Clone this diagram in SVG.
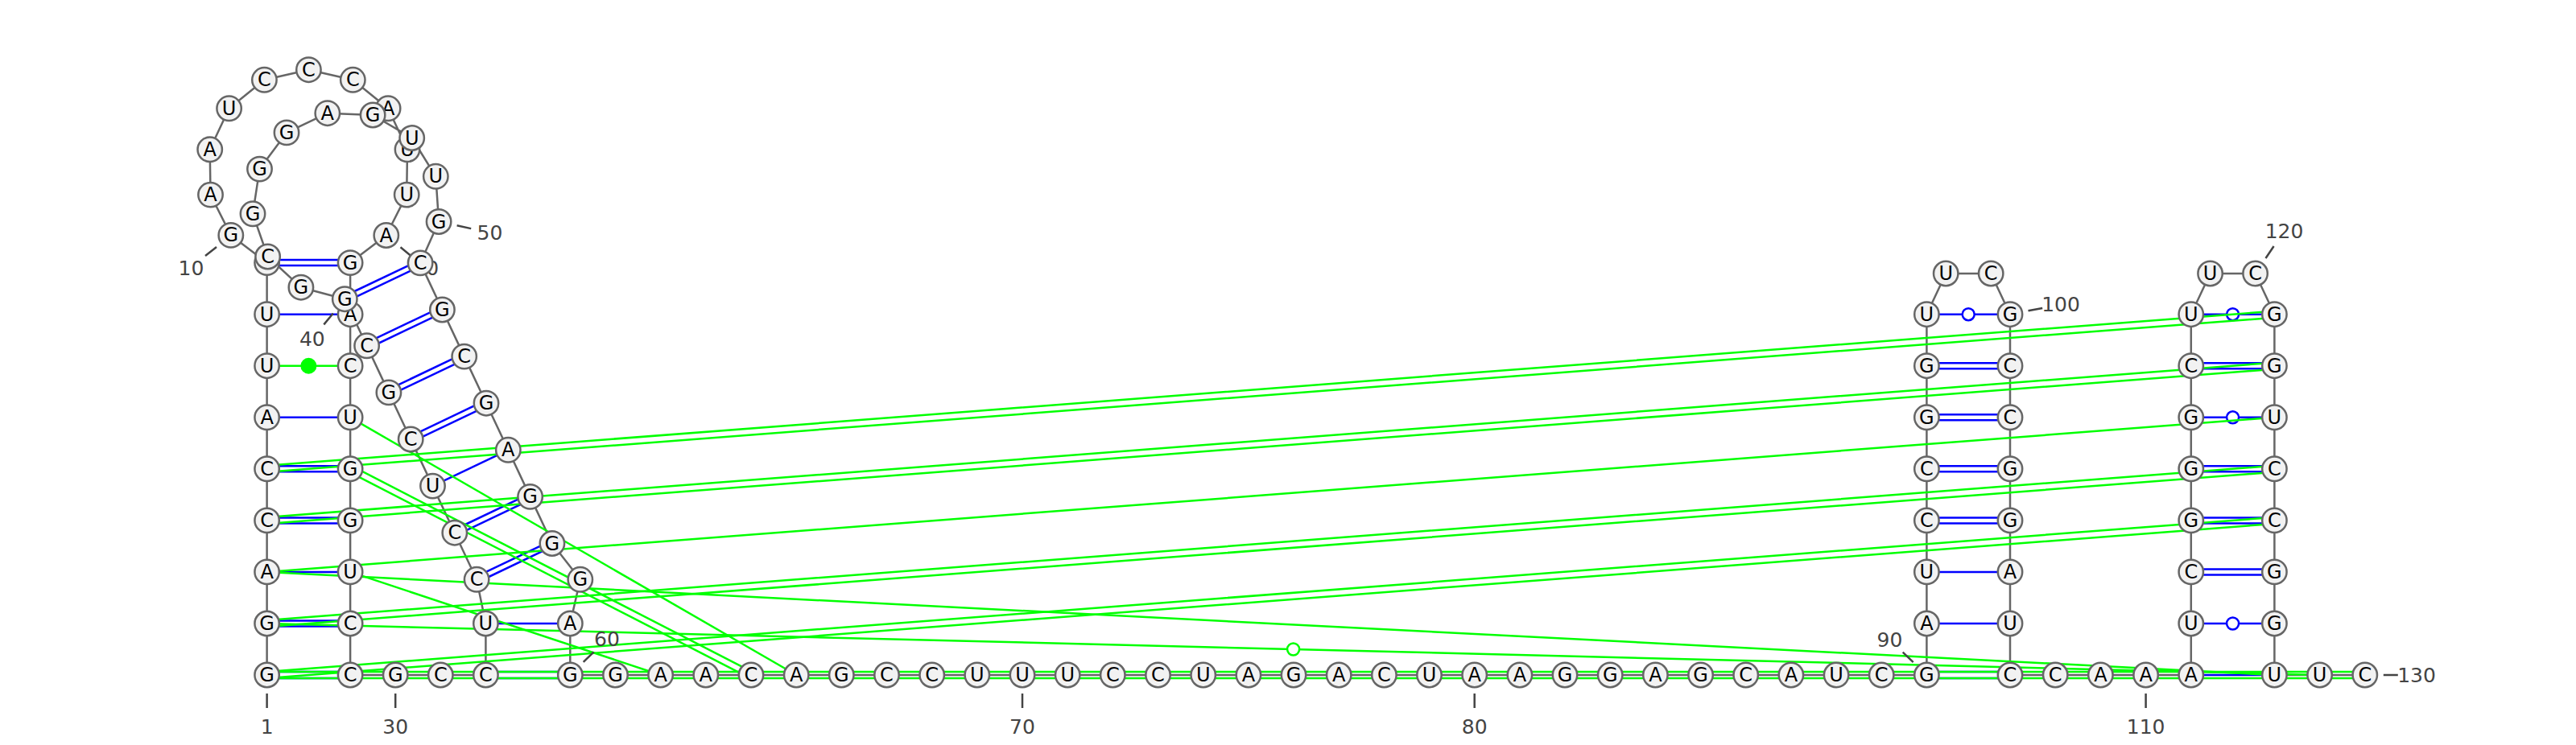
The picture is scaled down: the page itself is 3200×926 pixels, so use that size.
<svg xmlns="http://www.w3.org/2000/svg" width="3200" height="926" viewBox="0 0 3200 926">
<style>
.bb{stroke:#666;stroke-width:2.5;fill:none;stroke-linejoin:round}
.bp{stroke:#0000ff;stroke-width:2.5;fill:none}
.gp{stroke:#00ff00;stroke-width:2.5;fill:none}
.wb{fill:#fff;stroke:#0000ff;stroke-width:2.5}
.wg{fill:#fff;stroke:#00ff00;stroke-width:2.5}
.nd circle{fill:#f2f2f2;stroke:#666;stroke-width:2.5}
.nd text{font-family:'DejaVu Sans',sans-serif;font-size:24px;text-anchor:middle;dominant-baseline:central;fill:#000}
.lb{font-family:'DejaVu Sans',sans-serif;font-size:25px;text-anchor:middle;dominant-baseline:central;fill:#444}
.tk{stroke:#444;stroke-width:2.5}
</style>
<rect width="3200" height="926" fill="#fff"/>
<g id="connectors">
<polyline class="bb" points="331.6,839 331.6,775 331.6,710.9 331.6,646.9 331.6,582.8 331.6,518.8 331.6,454.7 331.6,390.7 331.6,326.6 286.8,292.4 261.5,242.1 260.7,185.8 284.6,134.8 328.4,99.3 383.4,86.7 438.3,99.3 482.1,134.8 506,185.8 505.2,242.1 479.8,292.5 435.1,326.6 435.1,839 603.4,839 603.4,775 592.1,720.3 564.8,662.2 537.5,604.1 510.2,546 482.9,487.9 455.6,429.8 428.3,371.7 373.9,357.2 332.6,319 314,265.8 322.5,210.1 356,164.9 406.8,140.7 463.1,143 511.7,171.5 541.3,219.3 545.1,275.5 522.1,326.9 549.4,385 576.7,443.1 604,501.2 631.3,559.3 658.6,617.4 685.9,675.5 720.8,720.3 708.3,775 708.3,839 2393.4,839 2393.4,390.7 2417.2,340 2473.2,340 2497,390.7 2497,839 2721.8,839 2721.8,390.7 2745.6,340 2801.6,340 2825.4,390.7 2825.4,839 2937.8,839"/>
<g id="pairs-blue">
<path class="bp" d="M331.6 835H435.1M331.6 843H435.1"/>
<path class="bp" d="M331.6 771.5H435.1M331.6 778.5H435.1"/>
<path class="bp" d="M331.6 710.9H435.1"/>
<path class="bp" d="M331.6 643.4H435.1M331.6 650.4H435.1"/>
<path class="bp" d="M331.6 579.3H435.1M331.6 586.3H435.1"/>
<path class="bp" d="M331.6 518.8H435.1"/>
<path class="bp" d="M331.6 390.7H435.1"/>
<path class="bp" d="M331.6 323.1H435.1M331.6 330.1H435.1"/>
<path class="bp" d="M429.8 374.9L523.6 330.1M426.8 368.5L520.6 323.7"/>
<path class="bp" d="M457.1 433L550.9 388.2M454.1 426.6L547.9 381.8"/>
<path class="bp" d="M484.4 491.1L578.2 446.3M481.4 484.7L575.2 439.9"/>
<path class="bp" d="M511.7 549.2L605.5 504.4M508.7 542.8L602.5 498"/>
<path class="bp" d="M537.5 604.1L631.3 559.3"/>
<path class="bp" d="M566.3 665.4L660.1 620.6M563.3 659L657.1 614.2"/>
<path class="bp" d="M593.6 723.5L687.4 678.7M590.6 717.1L684.4 672.3"/>
<path class="bp" d="M603.4 775H708.3"/>
<path class="bp" d="M603.4 835H708.3M603.4 843H708.3"/>
<path class="bp" d="M2393.4 835H2497M2393.4 843H2497"/>
<path class="bp" d="M2393.4 775H2497"/>
<path class="bp" d="M2393.4 710.9H2497"/>
<path class="bp" d="M2393.4 643.4H2497M2393.4 650.4H2497"/>
<path class="bp" d="M2393.4 579.3H2497M2393.4 586.3H2497"/>
<path class="bp" d="M2393.4 515.3H2497M2393.4 522.3H2497"/>
<path class="bp" d="M2393.4 451.2H2497M2393.4 458.2H2497"/>
<path class="bp" d="M2393.4 390.7H2497"/>
<circle class="wb" cx="2445.2" cy="390.7" r="7.5"/>
<path class="bp" d="M2721.8 839H2825.4"/>
<path class="bp" d="M2721.8 775H2825.4"/>
<circle class="wb" cx="2773.6" cy="775" r="7.5"/>
<path class="bp" d="M2721.8 707.4H2825.4M2721.8 714.4H2825.4"/>
<path class="bp" d="M2721.8 643.4H2825.4M2721.8 650.4H2825.4"/>
<path class="bp" d="M2721.8 579.3H2825.4M2721.8 586.3H2825.4"/>
<path class="bp" d="M2721.8 518.8H2825.4"/>
<circle class="wb" cx="2773.6" cy="518.8" r="7.5"/>
<path class="bp" d="M2721.8 451.2H2825.4M2721.8 458.2H2825.4"/>
<path class="bp" d="M2721.8 390.7H2825.4"/>
<circle class="wb" cx="2773.6" cy="390.7" r="7.5"/>
</g>
<g id="pairs-green">
<path class="gp" d="M331.6 835H2937.8M331.6 843H2937.8"/>
<path class="gp" d="M331.6 775L2881.6 839"/>
<circle class="wg" cx="1606.6" cy="807" r="7.5"/>
<path class="gp" d="M331.6 710.9L2825.4 839"/>
<path class="gp" d="M331.9 843L2825.7 650.9M331.3 835L2825.1 642.9"/>
<path class="gp" d="M331.9 779L2825.7 586.8M331.3 771L2825.1 578.8"/>
<path class="gp" d="M331.6 710.9L2825.4 518.8"/>
<path class="gp" d="M331.9 650.9L2825.7 458.7M331.3 642.9L2825.1 450.7"/>
<path class="gp" d="M331.9 586.8L2825.7 394.7M331.3 578.8L2825.1 386.7"/>
<path class="gp" d="M331.6 454.7H435.1"/>
<circle cx="383.35" cy="454.7" r="10" fill="#00ff00"/>
<path class="gp" d="M435.1 518.8L989.2 839"/>
<path class="gp" d="M433.3 586.4L931.2 842.6M436.9 579.2L934.8 835.4"/>
<path class="gp" d="M435.1 710.9L820.6 839"/>
</g>
</g>
<g id="labels">
<path class="tk" d="M331.6 862V880M269 307L255 318M497.5 307.2L511.4 318.7M491.2 862V880M413.8 389.5L402.3 403.4M567.6 280.3L585.2 284.1M724.7 822.9L737.6 810.4M1270 862V880M1831.7 862V880M2376.7 823.1L2363.7 810.7M2519.5 386.3L2537.2 382.9M2665.6 862V880M2814.5 321L2824.6 306M2960.8 839H2978.8"/>
<text class="lb" x="331.6" y="903">1</text>
<text class="lb" x="237.5" y="333.4">10</text>
<text class="lb" x="529.3" y="333.5">20</text>
<text class="lb" x="491.2" y="903">30</text>
<text class="lb" x="387.8" y="421.5">40</text>
<text class="lb" x="608.5" y="289">50</text>
<text class="lb" x="754" y="794.5">60</text>
<text class="lb" x="1270" y="903">70</text>
<text class="lb" x="1831.7" y="903">80</text>
<text class="lb" x="2347.5" y="795">90</text>
<text class="lb" x="2560" y="378">100</text>
<text class="lb" x="2665.6" y="903">110</text>
<text class="lb" x="2837.5" y="287">120</text>
<text class="lb" x="3002" y="839">130</text>
</g>
<g id="nodes" class="nd">
<g id="n1"><circle cx="331.6" cy="839" r="15.2"/><text x="331.6" y="839">G</text></g>
<g id="n2"><circle cx="331.6" cy="775" r="15.2"/><text x="331.6" y="775">G</text></g>
<g id="n3"><circle cx="331.6" cy="710.9" r="15.2"/><text x="331.6" y="710.9">A</text></g>
<g id="n4"><circle cx="331.6" cy="646.9" r="15.2"/><text x="331.6" y="646.9">C</text></g>
<g id="n5"><circle cx="331.6" cy="582.8" r="15.2"/><text x="331.6" y="582.8">C</text></g>
<g id="n6"><circle cx="331.6" cy="518.8" r="15.2"/><text x="331.6" y="518.8">A</text></g>
<g id="n7"><circle cx="331.6" cy="454.7" r="15.2"/><text x="331.6" y="454.7">U</text></g>
<g id="n8"><circle cx="331.6" cy="390.7" r="15.2"/><text x="331.6" y="390.7">U</text></g>
<g id="n9"><circle cx="331.6" cy="326.6" r="15.2"/><text x="331.6" y="326.6">C</text></g>
<g id="n10"><circle cx="286.8" cy="292.4" r="15.2"/><text x="286.8" y="292.4">G</text></g>
<g id="n11"><circle cx="261.5" cy="242.1" r="15.2"/><text x="261.5" y="242.1">A</text></g>
<g id="n12"><circle cx="260.7" cy="185.8" r="15.2"/><text x="260.7" y="185.8">A</text></g>
<g id="n13"><circle cx="284.6" cy="134.8" r="15.2"/><text x="284.6" y="134.8">U</text></g>
<g id="n14"><circle cx="328.4" cy="99.3" r="15.2"/><text x="328.4" y="99.3">C</text></g>
<g id="n15"><circle cx="383.4" cy="86.7" r="15.2"/><text x="383.4" y="86.7">C</text></g>
<g id="n16"><circle cx="438.3" cy="99.3" r="15.2"/><text x="438.3" y="99.3">C</text></g>
<g id="n17"><circle cx="482.1" cy="134.8" r="15.2"/><text x="482.1" y="134.8">A</text></g>
<g id="n18"><circle cx="506" cy="185.8" r="15.2"/><text x="506" y="185.8">U</text></g>
<g id="n19"><circle cx="505.2" cy="242.1" r="15.2"/><text x="505.2" y="242.1">U</text></g>
<g id="n20"><circle cx="479.8" cy="292.5" r="15.2"/><text x="479.8" y="292.5">A</text></g>
<g id="n21"><circle cx="435.1" cy="326.6" r="15.2"/><text x="435.1" y="326.6">G</text></g>
<g id="n22"><circle cx="435.1" cy="390.7" r="15.2"/><text x="435.1" y="390.7">A</text></g>
<g id="n23"><circle cx="435.1" cy="454.7" r="15.2"/><text x="435.1" y="454.7">C</text></g>
<g id="n24"><circle cx="435.1" cy="518.8" r="15.2"/><text x="435.1" y="518.8">U</text></g>
<g id="n25"><circle cx="435.1" cy="582.8" r="15.2"/><text x="435.1" y="582.8">G</text></g>
<g id="n26"><circle cx="435.1" cy="646.9" r="15.2"/><text x="435.1" y="646.9">G</text></g>
<g id="n27"><circle cx="435.1" cy="710.9" r="15.2"/><text x="435.1" y="710.9">U</text></g>
<g id="n28"><circle cx="435.1" cy="775" r="15.2"/><text x="435.1" y="775">C</text></g>
<g id="n29"><circle cx="435.1" cy="839" r="15.2"/><text x="435.1" y="839">C</text></g>
<g id="n30"><circle cx="491.2" cy="839" r="15.2"/><text x="491.2" y="839">G</text></g>
<g id="n31"><circle cx="547.3" cy="839" r="15.2"/><text x="547.3" y="839">C</text></g>
<g id="n32"><circle cx="603.4" cy="839" r="15.2"/><text x="603.4" y="839">C</text></g>
<g id="n33"><circle cx="603.4" cy="775" r="15.2"/><text x="603.4" y="775">U</text></g>
<g id="n34"><circle cx="592.1" cy="720.3" r="15.2"/><text x="592.1" y="720.3">C</text></g>
<g id="n35"><circle cx="564.8" cy="662.2" r="15.2"/><text x="564.8" y="662.2">C</text></g>
<g id="n36"><circle cx="537.5" cy="604.1" r="15.2"/><text x="537.5" y="604.1">U</text></g>
<g id="n37"><circle cx="510.2" cy="546" r="15.2"/><text x="510.2" y="546">C</text></g>
<g id="n38"><circle cx="482.9" cy="487.9" r="15.2"/><text x="482.9" y="487.9">G</text></g>
<g id="n39"><circle cx="455.6" cy="429.8" r="15.2"/><text x="455.6" y="429.8">C</text></g>
<g id="n40"><circle cx="428.3" cy="371.7" r="15.2"/><text x="428.3" y="371.7">G</text></g>
<g id="n41"><circle cx="373.9" cy="357.2" r="15.2"/><text x="373.9" y="357.2">G</text></g>
<g id="n42"><circle cx="332.6" cy="319" r="15.2"/><text x="332.6" y="319">C</text></g>
<g id="n43"><circle cx="314" cy="265.8" r="15.2"/><text x="314" y="265.8">G</text></g>
<g id="n44"><circle cx="322.5" cy="210.1" r="15.2"/><text x="322.5" y="210.1">G</text></g>
<g id="n45"><circle cx="356" cy="164.9" r="15.2"/><text x="356" y="164.9">G</text></g>
<g id="n46"><circle cx="406.8" cy="140.7" r="15.2"/><text x="406.8" y="140.7">A</text></g>
<g id="n47"><circle cx="463.1" cy="143" r="15.2"/><text x="463.1" y="143">G</text></g>
<g id="n48"><circle cx="511.7" cy="171.5" r="15.2"/><text x="511.7" y="171.5">U</text></g>
<g id="n49"><circle cx="541.3" cy="219.3" r="15.2"/><text x="541.3" y="219.3">U</text></g>
<g id="n50"><circle cx="545.1" cy="275.5" r="15.2"/><text x="545.1" y="275.5">G</text></g>
<g id="n51"><circle cx="522.1" cy="326.9" r="15.2"/><text x="522.1" y="326.9">C</text></g>
<g id="n52"><circle cx="549.4" cy="385" r="15.2"/><text x="549.4" y="385">G</text></g>
<g id="n53"><circle cx="576.7" cy="443.1" r="15.2"/><text x="576.7" y="443.1">C</text></g>
<g id="n54"><circle cx="604" cy="501.2" r="15.2"/><text x="604" y="501.2">G</text></g>
<g id="n55"><circle cx="631.3" cy="559.3" r="15.2"/><text x="631.3" y="559.3">A</text></g>
<g id="n56"><circle cx="658.6" cy="617.4" r="15.2"/><text x="658.6" y="617.4">G</text></g>
<g id="n57"><circle cx="685.9" cy="675.5" r="15.2"/><text x="685.9" y="675.5">G</text></g>
<g id="n58"><circle cx="720.8" cy="720.3" r="15.2"/><text x="720.8" y="720.3">G</text></g>
<g id="n59"><circle cx="708.3" cy="775" r="15.2"/><text x="708.3" y="775">A</text></g>
<g id="n60"><circle cx="708.3" cy="839" r="15.2"/><text x="708.3" y="839">G</text></g>
<g id="n61"><circle cx="764.5" cy="839" r="15.2"/><text x="764.5" y="839">G</text></g>
<g id="n62"><circle cx="820.6" cy="839" r="15.2"/><text x="820.6" y="839">A</text></g>
<g id="n63"><circle cx="876.8" cy="839" r="15.2"/><text x="876.8" y="839">A</text></g>
<g id="n64"><circle cx="933" cy="839" r="15.2"/><text x="933" y="839">C</text></g>
<g id="n65"><circle cx="989.2" cy="839" r="15.2"/><text x="989.2" y="839">A</text></g>
<g id="n66"><circle cx="1045.3" cy="839" r="15.2"/><text x="1045.3" y="839">G</text></g>
<g id="n67"><circle cx="1101.5" cy="839" r="15.2"/><text x="1101.5" y="839">C</text></g>
<g id="n68"><circle cx="1157.7" cy="839" r="15.2"/><text x="1157.7" y="839">C</text></g>
<g id="n69"><circle cx="1213.8" cy="839" r="15.2"/><text x="1213.8" y="839">U</text></g>
<g id="n70"><circle cx="1270" cy="839" r="15.2"/><text x="1270" y="839">U</text></g>
<g id="n71"><circle cx="1326.2" cy="839" r="15.2"/><text x="1326.2" y="839">U</text></g>
<g id="n72"><circle cx="1382.3" cy="839" r="15.2"/><text x="1382.3" y="839">C</text></g>
<g id="n73"><circle cx="1438.5" cy="839" r="15.2"/><text x="1438.5" y="839">C</text></g>
<g id="n74"><circle cx="1494.7" cy="839" r="15.2"/><text x="1494.7" y="839">U</text></g>
<g id="n75"><circle cx="1550.9" cy="839" r="15.2"/><text x="1550.9" y="839">A</text></g>
<g id="n76"><circle cx="1607" cy="839" r="15.2"/><text x="1607" y="839">G</text></g>
<g id="n77"><circle cx="1663.2" cy="839" r="15.2"/><text x="1663.2" y="839">A</text></g>
<g id="n78"><circle cx="1719.4" cy="839" r="15.2"/><text x="1719.4" y="839">C</text></g>
<g id="n79"><circle cx="1775.5" cy="839" r="15.2"/><text x="1775.5" y="839">U</text></g>
<g id="n80"><circle cx="1831.7" cy="839" r="15.2"/><text x="1831.7" y="839">A</text></g>
<g id="n81"><circle cx="1887.9" cy="839" r="15.2"/><text x="1887.9" y="839">A</text></g>
<g id="n82"><circle cx="1944" cy="839" r="15.2"/><text x="1944" y="839">G</text></g>
<g id="n83"><circle cx="2000.2" cy="839" r="15.2"/><text x="2000.2" y="839">G</text></g>
<g id="n84"><circle cx="2056.4" cy="839" r="15.2"/><text x="2056.4" y="839">A</text></g>
<g id="n85"><circle cx="2112.6" cy="839" r="15.2"/><text x="2112.6" y="839">G</text></g>
<g id="n86"><circle cx="2168.7" cy="839" r="15.2"/><text x="2168.7" y="839">C</text></g>
<g id="n87"><circle cx="2224.9" cy="839" r="15.2"/><text x="2224.9" y="839">A</text></g>
<g id="n88"><circle cx="2281.1" cy="839" r="15.2"/><text x="2281.1" y="839">U</text></g>
<g id="n89"><circle cx="2337.2" cy="839" r="15.2"/><text x="2337.2" y="839">C</text></g>
<g id="n90"><circle cx="2393.4" cy="839" r="15.2"/><text x="2393.4" y="839">G</text></g>
<g id="n91"><circle cx="2393.4" cy="775" r="15.2"/><text x="2393.4" y="775">A</text></g>
<g id="n92"><circle cx="2393.4" cy="710.9" r="15.2"/><text x="2393.4" y="710.9">U</text></g>
<g id="n93"><circle cx="2393.4" cy="646.9" r="15.2"/><text x="2393.4" y="646.9">C</text></g>
<g id="n94"><circle cx="2393.4" cy="582.8" r="15.2"/><text x="2393.4" y="582.8">C</text></g>
<g id="n95"><circle cx="2393.4" cy="518.8" r="15.2"/><text x="2393.4" y="518.8">G</text></g>
<g id="n96"><circle cx="2393.4" cy="454.7" r="15.2"/><text x="2393.4" y="454.7">G</text></g>
<g id="n97"><circle cx="2393.4" cy="390.7" r="15.2"/><text x="2393.4" y="390.7">U</text></g>
<g id="n98"><circle cx="2417.2" cy="340" r="15.2"/><text x="2417.2" y="340">U</text></g>
<g id="n99"><circle cx="2473.2" cy="340" r="15.2"/><text x="2473.2" y="340">C</text></g>
<g id="n100"><circle cx="2497" cy="390.7" r="15.2"/><text x="2497" y="390.7">G</text></g>
<g id="n101"><circle cx="2497" cy="454.7" r="15.2"/><text x="2497" y="454.7">C</text></g>
<g id="n102"><circle cx="2497" cy="518.8" r="15.2"/><text x="2497" y="518.8">C</text></g>
<g id="n103"><circle cx="2497" cy="582.8" r="15.2"/><text x="2497" y="582.8">G</text></g>
<g id="n104"><circle cx="2497" cy="646.9" r="15.2"/><text x="2497" y="646.9">G</text></g>
<g id="n105"><circle cx="2497" cy="710.9" r="15.2"/><text x="2497" y="710.9">A</text></g>
<g id="n106"><circle cx="2497" cy="775" r="15.2"/><text x="2497" y="775">U</text></g>
<g id="n107"><circle cx="2497" cy="839" r="15.2"/><text x="2497" y="839">C</text></g>
<g id="n108"><circle cx="2553.2" cy="839" r="15.2"/><text x="2553.2" y="839">C</text></g>
<g id="n109"><circle cx="2609.4" cy="839" r="15.2"/><text x="2609.4" y="839">A</text></g>
<g id="n110"><circle cx="2665.6" cy="839" r="15.2"/><text x="2665.6" y="839">A</text></g>
<g id="n111"><circle cx="2721.8" cy="839" r="15.2"/><text x="2721.8" y="839">A</text></g>
<g id="n112"><circle cx="2721.8" cy="775" r="15.2"/><text x="2721.8" y="775">U</text></g>
<g id="n113"><circle cx="2721.8" cy="710.9" r="15.2"/><text x="2721.8" y="710.9">C</text></g>
<g id="n114"><circle cx="2721.8" cy="646.9" r="15.2"/><text x="2721.8" y="646.9">G</text></g>
<g id="n115"><circle cx="2721.8" cy="582.8" r="15.2"/><text x="2721.8" y="582.8">G</text></g>
<g id="n116"><circle cx="2721.8" cy="518.8" r="15.2"/><text x="2721.8" y="518.8">G</text></g>
<g id="n117"><circle cx="2721.8" cy="454.7" r="15.2"/><text x="2721.8" y="454.7">C</text></g>
<g id="n118"><circle cx="2721.8" cy="390.7" r="15.2"/><text x="2721.8" y="390.7">U</text></g>
<g id="n119"><circle cx="2745.6" cy="340" r="15.2"/><text x="2745.6" y="340">U</text></g>
<g id="n120"><circle cx="2801.6" cy="340" r="15.2"/><text x="2801.6" y="340">C</text></g>
<g id="n121"><circle cx="2825.4" cy="390.7" r="15.2"/><text x="2825.4" y="390.7">G</text></g>
<g id="n122"><circle cx="2825.4" cy="454.7" r="15.2"/><text x="2825.4" y="454.7">G</text></g>
<g id="n123"><circle cx="2825.4" cy="518.8" r="15.2"/><text x="2825.4" y="518.8">U</text></g>
<g id="n124"><circle cx="2825.4" cy="582.8" r="15.2"/><text x="2825.4" y="582.8">C</text></g>
<g id="n125"><circle cx="2825.4" cy="646.9" r="15.2"/><text x="2825.4" y="646.9">C</text></g>
<g id="n126"><circle cx="2825.4" cy="710.9" r="15.2"/><text x="2825.4" y="710.9">G</text></g>
<g id="n127"><circle cx="2825.4" cy="775" r="15.2"/><text x="2825.4" y="775">G</text></g>
<g id="n128"><circle cx="2825.4" cy="839" r="15.2"/><text x="2825.4" y="839">U</text></g>
<g id="n129"><circle cx="2881.6" cy="839" r="15.2"/><text x="2881.6" y="839">U</text></g>
<g id="n130"><circle cx="2937.8" cy="839" r="15.2"/><text x="2937.8" y="839">C</text></g>
</g>
</svg>
